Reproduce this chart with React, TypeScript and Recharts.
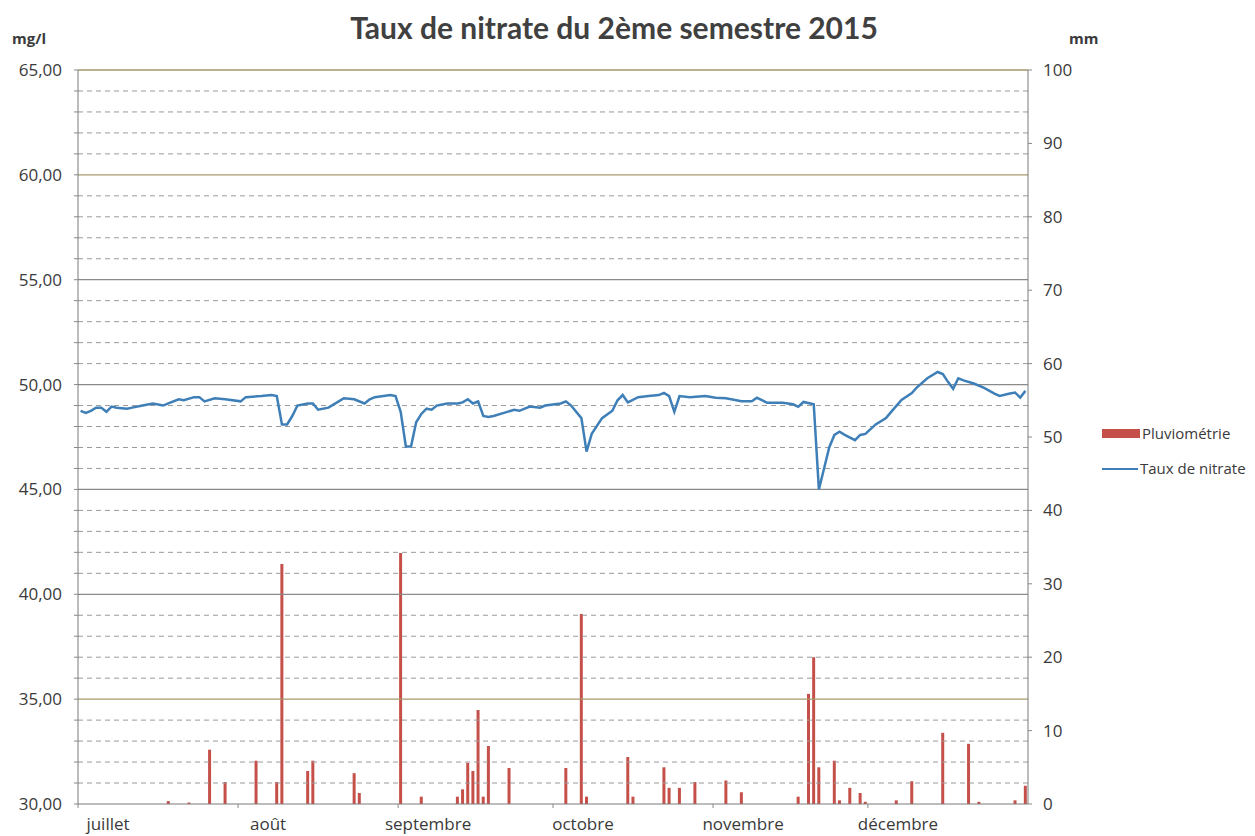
import {
  ComposedChart, Bar, Line, XAxis, YAxis, ReferenceLine,
} from "recharts";

// days counted from 1 July 2015 (0) to 31 December 2015 (183)
const monthStarts = [0, 31, 62, 92, 123, 153];
const monthLabels = ["juillet", "août", "septembre", "octobre", "novembre", "décembre"];

// nitrate (mg/l)
const nitrateDays = [
  0, 1, 2, 3, 4, 5, 6, 7, 9, 10, 12, 14, 16, 17, 19, 20, 22, 23, 24, 26, 28, 31, 32, 35, 37, 38,
  39, 40, 41, 42, 44, 45, 46, 48, 50, 51, 53, 55, 56, 57, 60, 61, 62, 63, 64, 65, 66, 67, 68, 69,
  71, 73, 74, 75, 76, 77, 78, 79, 80, 82, 84, 85, 87, 89, 90, 93, 94, 95, 97, 98, 99, 101, 103,
  104, 105, 106, 108, 110, 112, 113, 114, 115, 116, 118, 121, 123, 125, 128, 130, 131, 133, 136,
  138, 139, 140, 142, 143, 144, 145, 146, 147, 148, 150, 151, 152, 154, 156, 157, 159, 161, 162,
  164, 166, 167, 168, 169, 170, 171, 173, 175, 177, 178, 180, 181, 182, 183,
];
const nitrateValues = [
  48.75, 48.65, 48.75, 48.9, 48.9, 48.7, 48.95, 48.9, 48.85, 48.9, 49.0, 49.1, 49.0, 49.1, 49.3, 49.25,
  49.4, 49.4, 49.2, 49.35, 49.3, 49.2, 49.4, 49.45, 49.5, 49.45,
  48.1, 48.1, 48.5, 49.0, 49.1, 49.1, 48.8, 48.9, 49.2, 49.35, 49.3, 49.1, 49.3, 49.4, 49.5, 49.45,
  48.7, 47.05, 47.05, 48.2, 48.6, 48.85, 48.8, 49.0,
  49.1, 49.1, 49.15, 49.3, 49.1, 49.2, 48.5, 48.45, 48.5, 48.65, 48.8, 48.75, 48.95, 48.9, 49.0,
  49.1, 49.2, 49.0, 48.4, 46.8, 47.65, 48.4, 48.75,
  49.25, 49.5, 49.15, 49.4, 49.45, 49.5, 49.6, 49.45, 48.7, 49.45, 49.4, 49.45, 49.37, 49.35, 49.2,
  49.2, 49.37, 49.13, 49.13,
  49.06, 48.94, 49.17, 49.06, 45.0, 46.0, 47.0, 47.6, 47.75, 47.6, 47.35, 47.6, 47.65, 48.1, 48.4,
  48.7, 49.27, 49.59, 49.87,
  50.3, 50.6, 50.5, 50.13, 49.8, 50.3, 50.2, 50.05, 49.84, 49.57, 49.46, 49.57, 49.62, 49.38, 49.7,
];

// rainfall (mm)
const rainDays = [
  17, 21, 25, 28, 34, 38, 39, 44, 45, 53, 54, 62, 66, 73, 74, 75, 76, 77, 78, 79, 83, 94, 97, 98,
  106, 107, 113, 114, 116, 119, 125, 128, 139, 141, 142, 143, 146, 147, 149, 151, 152, 158, 161,
  167, 172, 174, 181, 183,
];
const rainValues = [
  0.4, 0.2, 7.4, 3.0, 5.9, 3.0, 32.7, 4.5, 5.9, 4.2, 1.5, 34.2, 1.0, 1.0, 2.0, 5.6, 4.5, 12.8, 1.0,
  7.9, 4.9, 4.9, 25.9, 1.0,
  6.4, 1.0, 5.0, 2.2, 2.2, 3.0, 3.2, 1.6, 1.0, 15.0, 20.0, 5.0, 5.9, 0.5, 2.2, 1.5, 0.3, 0.5, 3.1,
  9.7, 8.2, 0.3, 0.5, 2.5,
];

const leftTicks = Array.from({ length: 36 }, (_, i) => 30 + i);
const rightTicks = [0, 10, 20, 30, 40, 50, 60, 70, 80, 90, 100];

const FONT = "'Open Sans', Lato, sans-serif";
const TEXT = "#3a3a3a";
const RAIN = "#c5504a";
const NITRATE = "#3f7fb8";

const data = Array.from({ length: 184 }, (_, d) => {
  const ni = nitrateDays.indexOf(d);
  const ri = rainDays.indexOf(d);
  return {
    x: d + 0.5,
    nitrate: ni >= 0 ? nitrateValues[ni] : null,
    rain: ri >= 0 ? rainValues[ri] : null,
  };
});

function MonthTick(props: any) {
  const { x, y, payload } = props;
  const i = monthStarts.indexOf(payload.value);
  return (
    <g>
      <line x1={x} y1={y - 8} x2={x} y2={y - 4} stroke="#888" />
      <text x={x + 30} y={y + 18} textAnchor="middle" fontFamily={FONT} fontSize={17} fill={TEXT}>
        {monthLabels[i]}
      </text>
    </g>
  );
}

export default function App() {
  return (
    <div style={{ position: "relative", width: 1255, height: 836, background: "#fff" }}>
      <style>{`body{margin:0}`}</style>
      <div style={{ position: "absolute", left: 0, width: 1228, top: 9, textAlign: "center", fontFamily: "Lato, sans-serif", fontWeight: 700, fontSize: 30, color: "#404040" }}>
        Taux de nitrate du 2ème semestre 2015
      </div>
      <div style={{ position: "absolute", left: 12, top: 28, fontFamily: FONT, fontWeight: 700, fontSize: 15, color: TEXT }}>mg/l</div>
      <div style={{ position: "absolute", left: 1069, top: 28, fontFamily: FONT, fontWeight: 700, fontSize: 15, color: TEXT }}>mm</div>

      {/* legend */}
      <div style={{ position: "absolute", left: 1102, top: 416, fontFamily: FONT, fontSize: 15, color: TEXT, lineHeight: "35px" }}>
        <div style={{ display: "flex", alignItems: "center" }}>
          <span style={{ display: "inline-block", width: 38, height: 9, background: RAIN, marginRight: 2 }} />
          Pluviométrie
        </div>
        <div style={{ display: "flex", alignItems: "center" }}>
          <span style={{ display: "inline-block", width: 36, height: 2, background: NITRATE, marginRight: 2 }} />
          Taux de nitrate
        </div>
      </div>

      <ComposedChart width={1255} height={836} data={data} margin={{ top: 70, right: 165, bottom: 0, left: 8 }}>
        {leftTicks.filter((v) => v > 30).map((v) => (
          <ReferenceLine
            key={v}
            yAxisId="left"
            y={v}
            stroke={v % 5 === 0 ? (v === 65 || v === 60 || v === 35 ? "#a59a6a" : "#8a8a8a") : "#9a9a9a"}
            strokeWidth={v % 5 === 0 ? 1.3 : 1}
            strokeDasharray={v % 5 === 0 ? undefined : "5 4"}
          />
        ))}
        <XAxis
          dataKey="x"
          type="number"
          domain={[0, 184]}
          ticks={monthStarts}
          tick={<MonthTick />}
          tickLine={false}
          axisLine={{ stroke: "#7a7a7a" }}
          height={32}
          interval={0}
        />
        <YAxis
          yAxisId="left"
          domain={[30, 65]}
          ticks={leftTicks}
          interval={0}
          tickFormatter={(v: number) => (v % 5 === 0 ? v.toFixed(2).replace(".", ",") : "")}
          tick={{ fontFamily: FONT, fontSize: 17, fill: TEXT }}
          tickSize={4}
          tickMargin={12}
          tickLine={{ stroke: "#888" }}
          axisLine={{ stroke: "#7a7a7a" }}
          width={70}
        />
        <YAxis
          yAxisId="right"
          orientation="right"
          domain={[0, 100]}
          ticks={rightTicks}
          interval={0}
          tick={{ fontFamily: FONT, fontSize: 17, fill: TEXT, textAnchor: "start" }}
          tickSize={4}
          tickMargin={11}
          tickLine={{ stroke: "#888" }}
          axisLine={{ stroke: "#7a7a7a" }}
          width={62}
        />
        <Bar yAxisId="right" dataKey="rain" name="Pluviométrie" fill={RAIN} barSize={3} isAnimationActive={false} />
        <Line
          yAxisId="left"
          dataKey="nitrate"
          name="Taux de nitrate"
          type="linear"
          stroke={NITRATE}
          strokeWidth={2.5}
          dot={false}
          connectNulls
          isAnimationActive={false}
        />
      </ComposedChart>
    </div>
  );
}
